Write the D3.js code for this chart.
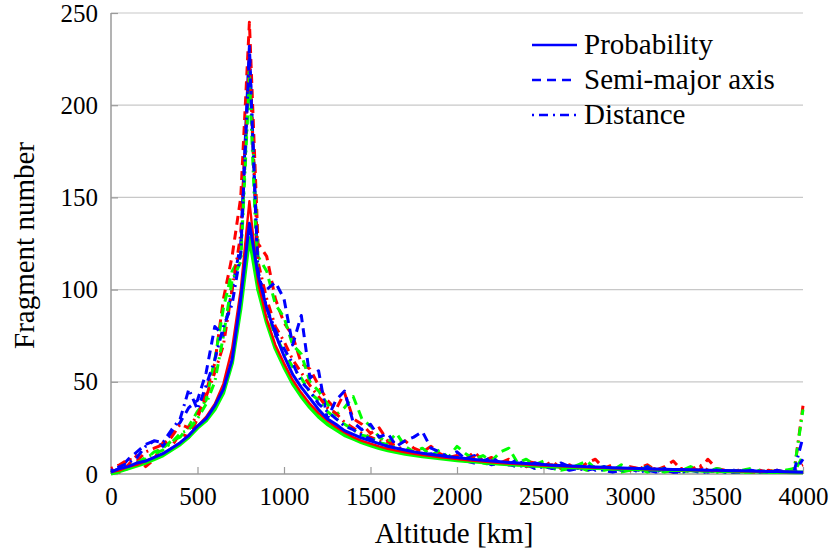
<!DOCTYPE html>
<html>
<head>
<meta charset="utf-8">
<script src="https://cdn.jsdelivr.net/npm/d3@7"></script>
<style>
  body { margin: 0; background: #fff; }
</style>
</head>
<body>
<div id="chart"></div>
<script>
// altitude grid in km (one sample every 50 km)
var altitudes = d3.range(0, 4001, 50);

// y ticks and x ticks
var yTicks = [0, 50, 100, 150, 200, 250];
var xTicks = [0, 500, 1000, 1500, 2000, 2500, 3000, 3500, 4000];

// smooth curves (probability method)
var probRed = [1, 2, 4, 5, 7, 9, 11, 14, 17, 21, 26, 31, 38, 49, 68, 100, 148, 104, 84, 70,
  60, 51, 44, 38, 33, 29, 25.5, 22.5, 20, 18, 16.5, 15, 13.7, 12.7, 11.8, 11, 10.3, 9.7, 9.1, 8.6,
  8.1, 7.6, 7.2, 6.8, 6.4, 6, 5.7, 5.4, 5.1, 4.8, 4.6, 4.4, 4.2, 4, 3.8, 3.6, 3.4, 3.3, 3.1, 3,
  2.9, 2.8, 2.6, 2.5, 2.4, 2.3, 2.2, 2.1, 2, 1.9, 1.8, 1.7, 1.6, 1.5, 1.4, 1.3, 1.2, 1.2, 1.1, 1, 1];
var probGreen = [0.5, 1.5, 3, 4.5, 6, 8, 10, 13, 16, 20, 25, 29, 35, 44, 60, 90, 128, 100, 82, 68,
  58, 49, 42, 36, 31, 27, 24, 21, 19, 17, 15.5, 14, 12.8, 11.8, 10.9, 10.2, 9.5, 8.9, 8.4, 7.9,
  7.4, 7, 6.6, 6.2, 5.8, 5.5, 5.2, 4.9, 4.6, 4.4, 4.2, 4, 3.8, 3.6, 3.4, 3.2, 3.1, 3, 2.8, 2.7,
  2.6, 2.5, 2.4, 2.3, 2.2, 2.1, 2, 1.9, 1.8, 1.7, 1.6, 1.5, 1.4, 1.3, 1.2, 1.2, 1.1, 1, 1, 0.9, 0.9];
var probBlue = [1, 3, 4, 6, 7, 9, 11, 14, 17, 21, 26, 30, 37, 46, 62, 95, 136, 108, 90, 76,
  64, 54, 47, 41, 35, 30, 27, 23.5, 21.5, 19.5, 18, 16.5, 15, 14, 13, 12, 11.3, 10.6, 10, 9.4,
  8.9, 8.4, 7.9, 7.5, 7.1, 6.7, 6.3, 6, 5.7, 5.4, 5.1, 4.8, 4.6, 4.4, 4.2, 4, 3.8, 3.6, 3.4, 3.2,
  3.1, 3, 2.8, 2.7, 2.6, 2.5, 2.4, 2.3, 2.2, 2.1, 2, 1.9, 1.8, 1.7, 1.6, 1.5, 1.4, 1.3, 1.2, 1.1, 1];

// noisy curves (semi-major axis method)
var semiRed = [2, 1, 5, 10, 4, 8, 17, 15, 22, 20, 30, 45, 60, 95, 118, 150, 245, 125, 118, 95,
  82, 75, 60, 57, 48, 40, 35, 44, 30, 27, 22, 25, 18, 16, 18, 14, 12, 15, 11, 9,
  10, 8, 12, 7, 9, 6, 8, 5, 7, 6, 4, 7, 3, 5, 2, 6, 8, 3, 5, 2,
  4, 3, 5, 2, 4, 7, 2, 3, 2, 8, 3, 2, 1, 3, 1, 2, 1, 2, 1, 3, 5];
var semiGreen = [0, 1, 3, 5, 8, 12, 14, 18, 20, 26, 34, 40, 62, 90, 110, 118, 220, 118, 110, 92,
  85, 70, 65, 50, 45, 38, 32, 36, 42, 30, 26, 20, 17, 22, 15, 12, 14, 10, 13, 9,
  15, 11, 8, 10, 7, 12, 14, 6, 8, 5, 7, 4, 6, 3, 5, 7, 3, 4, 2, 5,
  3, 2, 4, 2, 3, 1, 2, 4, 2, 1, 3, 2, 1, 2, 3, 1, 2, 1, 2, 1, 10];
var semiBlue = [1, 3, 8, 12, 16, 18, 15, 22, 28, 36, 40, 55, 80, 75, 100, 125, 232, 105, 100, 104,
  95, 70, 86, 52, 56, 30, 40, 45, 28, 24, 27, 20, 22, 15, 18, 20, 23, 14, 12, 9,
  12, 8, 10, 7, 9, 6, 5, 8, 4, 6, 5, 3, 6, 4, 3, 5, 2, 4, 3, 2,
  3, 2, 4, 1, 3, 2, 1, 2, 3, 1, 2, 1, 2, 1, 2, 1, 1, 2, 1, 1, 8];

// dash-dot curves (distance method)
var distRed = [3, 5, 8, 7, 12, 14, 16, 20, 27, 25, 32, 42, 55, 70, 100, 130, 225, 115, 95, 80,
  72, 62, 55, 48, 42, 36, 33, 28, 25, 22, 20, 18, 17, 15, 13, 12, 11, 10, 11, 9,
  8, 7, 9, 6, 7, 6, 5, 6, 4, 5, 4, 5, 3, 4, 3, 2, 4, 3, 2, 3,
  2, 4, 2, 3, 2, 1, 3, 2, 5, 2, 1, 2, 1, 2, 1, 1, 2, 1, 1, 2, 37];
var distGreen = [1, 2, 4, 6, 9, 11, 13, 17, 22, 24, 30, 38, 50, 75, 105, 115, 215, 100, 88, 75,
  66, 58, 52, 44, 40, 34, 30, 27, 24, 21, 20, 17, 16, 14, 12, 11, 10, 9, 10, 8,
  9, 7, 8, 6, 5, 6, 5, 4, 5, 3, 4, 3, 2, 3, 4, 2, 3, 2, 3, 1,
  2, 3, 1, 2, 1, 2, 1, 2, 1, 2, 1, 1, 2, 1, 1, 2, 1, 1, 2, 3, 35];
var distBlue = [2, 4, 6, 9, 15, 18, 17, 24, 30, 46, 35, 48, 62, 80, 92, 120, 228, 110, 90, 78,
  68, 60, 50, 45, 38, 34, 30, 26, 24, 21, 19, 17, 15, 14, 13, 11, 10, 11, 9, 8,
  9, 7, 6, 7, 5, 6, 5, 4, 5, 3, 4, 3, 4, 2, 3, 2, 3, 2, 1, 2,
  3, 1, 2, 1, 2, 1, 1, 2, 1, 1, 2, 1, 1, 1, 2, 1, 1, 1, 1, 2, 20];

var legendNames = ["Probability", "Semi-major axis", "Distance"];

var serif = "'Liberation Serif', 'Times New Roman', Times, 'DejaVu Serif', serif";

var width = 835, height = 552;
var margin = { top: 13, right: 32, bottom: 78, left: 111 };
var plotW = width - margin.left - margin.right;
var plotH = height - margin.top - margin.bottom;

var svg = d3.select("#chart").append("svg")
  .attr("width", width)
  .attr("height", height)
  .attr("font-family", serif);

var g = svg.append("g")
  .attr("transform", "translate(" + margin.left + "," + margin.top + ")");

var x = d3.scaleLinear().domain([0, 4000]).range([0, plotW]);
var y = d3.scaleLinear().domain([0, 250]).range([plotH, 0]);

// horizontal grid
g.selectAll(".grid")
  .data(yTicks.slice(1))
  .enter()
  .append("line")
  .attr("x1", 0)
  .attr("x2", plotW)
  .attr("y1", function(d) { return y(d); })
  .attr("y2", function(d) { return y(d); })
  .attr("stroke", "#c8c8c8")
  .attr("stroke-width", 1.2);

// axes (pgfplots style: inward ticks, grey lines)
var xAxis = d3.axisBottom(x).tickValues(xTicks).tickSize(-7).tickPadding(13).tickFormat(d3.format("d"));
var yAxis = d3.axisLeft(y).tickValues(yTicks).tickSize(-7).tickPadding(13).tickFormat(d3.format("d"));

var gx = g.append("g").attr("transform", "translate(0," + plotH + ")").call(xAxis);
var gy = g.append("g").call(yAxis);

[gx, gy].forEach(function(a) {
  a.attr("font-family", serif);
  a.select(".domain").attr("stroke", "#9a9a9a").attr("stroke-width", 1.5);
  a.selectAll(".tick line").attr("stroke", "#9a9a9a").attr("stroke-width", 1.2);
  a.selectAll(".tick text")
    .style("font-family", serif)
    .style("font-size", "25px")
    .attr("fill", "#000");
});
gx.select(".domain").attr("d", "M0,0H" + plotW);
gy.select(".domain").attr("d", "M0," + plotH + "V0");

// axis titles
g.append("text")
  .attr("x", plotW / 2 - 3)
  .attr("y", plotH + 69)
  .attr("text-anchor", "middle")
  .style("font-family", serif)
  .style("font-size", "29px")
  .text("Altitude [km]");

g.append("text")
  .attr("transform", "translate(-77," + (plotH / 2 + 2) + ") rotate(-90)")
  .attr("text-anchor", "middle")
  .style("font-family", serif)
  .style("font-size", "29px")
  .text("Fragment number");

var line = d3.line()
  .x(function(d, i) { return x(altitudes[i]); })
  .y(function(d) { return y(d); });

var dashed = "9,6";
var dashDot = "2,5,9,5";

// draw order: noisy series first, smooth ones on top
var series = [
  { values: semiRed, color: "#ff0000", dash: dashed },
  { values: semiGreen, color: "#00ff00", dash: dashed },
  { values: semiBlue, color: "#0000ff", dash: dashed },
  { values: distRed, color: "#ff0000", dash: dashDot },
  { values: distGreen, color: "#00ff00", dash: dashDot },
  { values: distBlue, color: "#0000ff", dash: dashDot },
  { values: probGreen, color: "#00ff00", dash: null, w: 3.6 },
  { values: probRed, color: "#ff0000", dash: null, w: 2.4 },
  { values: probBlue, color: "#0000ff", dash: null, w: 3 }
];

g.selectAll(".series")
  .data(series)
  .enter()
  .append("path")
  .attr("class", "series")
  .attr("d", function(d) { return line(d.values); })
  .attr("fill", "none")
  .attr("stroke", function(d) { return d.color; })
  .attr("stroke-width", function(d) { return d.w || 3; })
  .attr("stroke-dasharray", function(d) { return d.dash; })
  .attr("stroke-linejoin", "round");

// legend (blue entries only, no frame)
var legendDash = [null, dashed, dashDot];
var legend = svg.selectAll(".legend")
  .data(legendNames)
  .enter()
  .append("g")
  .attr("class", "legend")
  .attr("transform", function(d, i) { return "translate(532," + (45 + i * 35) + ")"; });

legend.append("line")
  .attr("x1", 0)
  .attr("x2", 45)
  .attr("stroke", "#0000ff")
  .attr("stroke-width", 2.6)
  .attr("stroke-dasharray", function(d, i) { return legendDash[i]; });

legend.append("text")
  .attr("x", 52)
  .attr("y", 9)
  .style("font-family", serif)
  .style("font-size", "29px")
  .text(function(d) { return d; });
</script>
</body>
</html>
